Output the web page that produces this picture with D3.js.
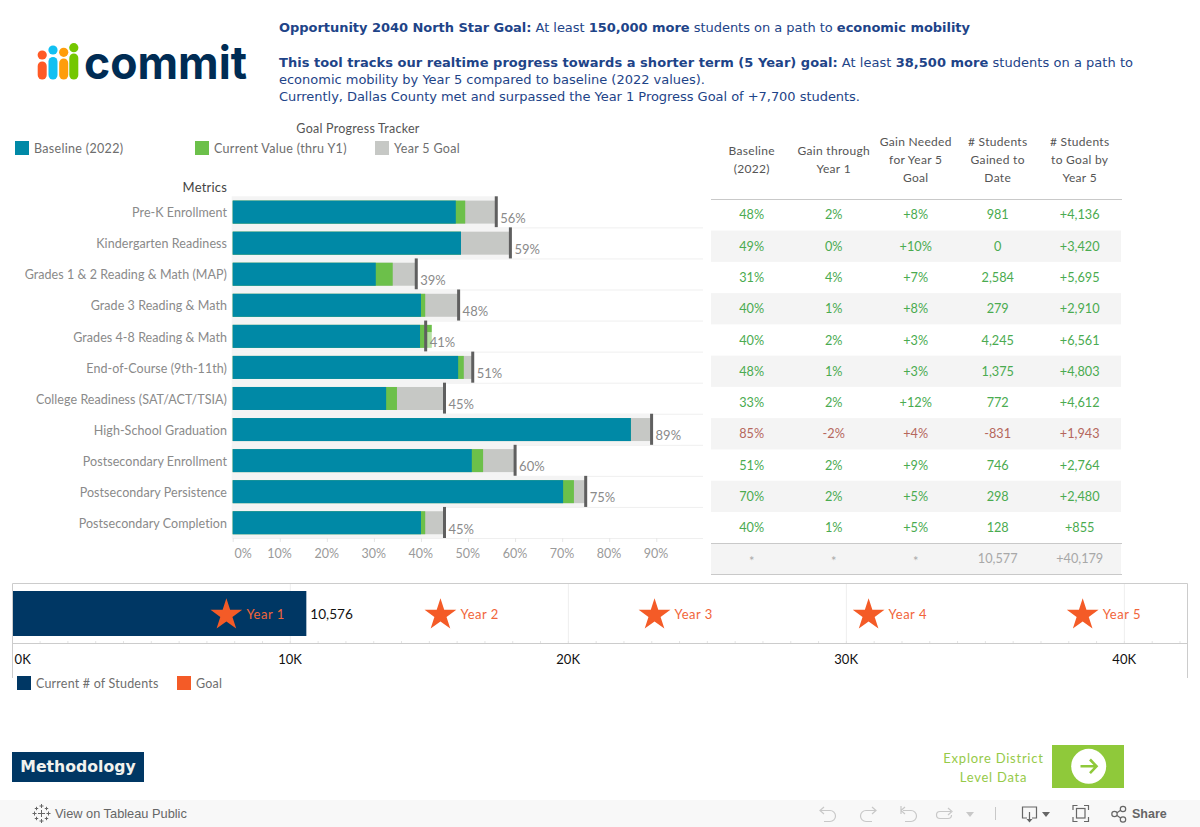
<!DOCTYPE html>
<html><head><meta charset="utf-8">
<script src="https://cdn.jsdelivr.net/npm/d3@7"></script>
<style>
html,body{margin:0;padding:0;background:#fff;overflow:hidden}
svg{display:block}
text{font-family:Lato,"Open Sans",sans-serif}
.dj{font-family:"DejaVu Sans",sans-serif}
</style></head><body><svg id="c" width="1200" height="827"></svg>
<script>
const metrics=["Pre-K Enrollment","Kindergarten Readiness","Grades 1 & 2 Reading & Math (MAP)","Grade 3 Reading & Math","Grades 4-8 Reading & Math","End-of-Course (9th-11th)","College Readiness (SAT/ACT/TSIA)","High-School Graduation","Postsecondary Enrollment","Postsecondary Persistence","Postsecondary Completion"];
const baselineBar=[47.4,48.5,30.4,40,39.8,47.9,32.6,84.6,50.8,70.2,40];
const currentBar=[49.4,48.5,34,40.9,42.3,49.1,34.9,84.6,53.2,72.5,40.9];
const goalBar=[56,59,39,48,41,51,45,89,60,75,45];
const goalLabels=["56%","59%","39%","48%","41%","51%","45%","89%","60%","75%","45%"];
const pctTicks=[0,10,20,30,40,50,60,70,80,90];
const colBaseline=["48%","49%","31%","40%","40%","48%","33%","85%","51%","70%","40%"];
const colGain=["2%","0%","4%","1%","2%","1%","2%","-2%","2%","2%","1%"];
const colNeeded=["+8%","+10%","+7%","+8%","+3%","+3%","+12%","+4%","+9%","+5%","+5%"];
const colGained=["981","0","2,584","279","4,245","1,375","772","-831","746","298","128"];
const colToGoal=["+4,136","+3,420","+5,695","+2,910","+6,561","+4,803","+4,612","+1,943","+2,764","+2,480","+855"];
const colTotals=["*","*","*","10,577","+40,179"];
const colHeads=[["Baseline","(2022)"],["Gain through","Year 1"],["Gain Needed","for Year 5","Goal"],["# Students","Gained to","Date"],["# Students","to Goal by","Year 5"]];
const currentStudents=10576;
const yearGoals=[7700,15400,23100,30800,38500];
const yearLabels=["Year 1","Year 2","Year 3","Year 4","Year 5"];
const kTicks=[0,10000,20000,30000,40000];

const C={teal:"#0089a6",green:"#6cc04a",grey:"#c6c8c5",band:"#f4f4f4",mark:"#5f5f5f",navy:"#003764",orange:"#f45b27",tg:"#4aab50",tr:"#b5675c",head:"#1e4488"};
const svg=d3.select("#c");

// ---- logo
const logo=svg.append("g");
[[42.2,55,61.5,"#ff5a26"],[53,50,57,"#12c0f2"],[63.7,52.3,58.5,"#ff9d0a"],[73.8,47.7,53.5,"#74c700"]].forEach(([x,dy,top,col])=>{
  logo.append("circle").attr("cx",x).attr("cy",dy).attr("r",4.6).attr("fill",col);
  logo.append("rect").attr("x",x-4.5).attr("y",top).attr("width",9).attr("height",79.5-top).attr("rx",4.5).attr("fill",col);
});
logo.append("text").attr("x",84).attr("y",79).attr("textLength",163).attr("lengthAdjust","spacingAndGlyphs")
  .style("font-family","Inter").style("font-size","46px").style("font-weight",700).attr("fill","#002c54").text("commit");

// ---- intro text
const intro=[
 [32,691,[["Opportunity 2040 North Star Goal:",1],[" At least ",0],["150,000 more",1],[" students on a path to ",0],["economic mobility",1]]],
 [67,854,[["This tool tracks our realtime progress towards a shorter term (5 Year) goal:",1],[" At least ",0],["38,500 more",1],[" students on a path to",0]]],
 [84,426,[["economic mobility by Year 5 compared to baseline (2022 values).",0]]],
 [101,581,[["Currently, Dallas County met and surpassed the Year 1 Progress Goal of +7,700 students.",0]]]
];
intro.forEach(([y,w,parts])=>{
  const t=svg.append("text").attr("class","dj").attr("x",279).attr("y",y).attr("fill",C.head).style("font-size","13px").attr("xml:space","preserve").attr("textLength",w).attr("lengthAdjust","spacing");
  parts.forEach(([s,b])=>t.append("tspan").style("font-weight",b?700:400).text(s));
});

// ---- legend
const soft={size:"12.5px",ls:".25px"};
svg.append("text").attr("x",358).attr("y",132.5).attr("text-anchor","middle").attr("fill","#555").style("font-size",soft.size).style("letter-spacing",soft.ls).text("Goal Progress Tracker");
[[15,C.teal,"Baseline (2022)"],[195,C.green,"Current Value (thru Y1)"],[375,C.grey,"Year 5 Goal"]].forEach(([x,c,s])=>{
  svg.append("rect").attr("x",x).attr("y",141).attr("width",14).attr("height",14).attr("fill",c);
  svg.append("text").attr("x",x+19).attr("y",153).attr("fill","#6e6e6e").style("font-size",soft.size).style("letter-spacing",".32px").text(s);
});
svg.append("text").attr("x",227).attr("y",192).attr("text-anchor","end").attr("fill","#444").style("font-size","13px").style("letter-spacing",".2px").text("Metrics");

// ---- bars
const x=d3.scaleLinear().domain([0,90]).range([232.7,656.3]);
const y=d3.scaleBand().domain(metrics).range([196.3,538]);
const rows=svg.append("g").selectAll("g").data(metrics).join("g").attr("transform",d=>`translate(0,${y(d)})`);
const bh=y.bandwidth(), pad=4.3, barH=23;
rows.append("rect").attr("x",x(0)-1).attr("width",(d,i)=>x(goalBar[i])-x(0)+1).attr("height",bh).attr("fill",C.band);
rows.append("line").attr("x1",x(0)).attr("x2",703).attr("y1",bh+.5).attr("y2",bh+.5).attr("stroke","#efefef");
rows.append("rect").attr("x",x(0)).attr("y",pad).attr("height",barH).attr("width",(d,i)=>x(goalBar[i])-x(0)).attr("fill",C.grey);
rows.append("rect").attr("x",x(0)).attr("y",pad).attr("height",barH).attr("width",(d,i)=>x(currentBar[i])-x(0)).attr("fill",C.green);
rows.append("rect").attr("x",x(0)).attr("y",pad).attr("height",barH).attr("width",(d,i)=>x(baselineBar[i])-x(0)).attr("fill",C.teal);
rows.append("rect").attr("x",(d,i)=>x(goalBar[i])+1.5).attr("y",11.5).attr("width",28).attr("height",bh-11.5).attr("fill","#fff").attr("fill-opacity",.5);
rows.append("rect").attr("x",(d,i)=>x(goalBar[i])-1.5).attr("y",0).attr("width",3).attr("height",bh).attr("fill",C.mark);
rows.append("text").attr("x",(d,i)=>x(goalBar[i])+4).attr("y",26.6).attr("fill","#8a8a8a").style("font-size","13px").text((d,i)=>goalLabels[i]);
rows.append("text").attr("x",227).attr("y",21).attr("text-anchor","end").attr("fill","#8a8a8a").style("font-size",soft.size).style("letter-spacing",".06px").text(d=>d);

const ax=svg.append("g").attr("transform","translate(0,538)").call(d3.axisBottom(x).tickValues(pctTicks).tickFormat(d=>d+"%").tickSize(4).tickPadding(7));
ax.select(".domain").remove();
ax.selectAll("line").attr("stroke","#e6e6e6");
ax.selectAll("text").attr("fill","#9a9a9a").style("font-size","12.5px").attr("font-family",null).attr("x",-.7);
ax.selectAll(".tick").filter(d=>d===0).select("text").attr("text-anchor","start").attr("x",1.3);

// ---- table
const tx=d3.scalePoint().domain(d3.range(5)).range([751.7,1079.7]);
const ty=d3.scaleBand().domain(d3.range(12)).range([199.3,574.5]);
const tbl=svg.append("g");
tbl.selectAll("rect").data(d3.range(12).filter(i=>i%2===1)).join("rect").attr("x",711).attr("width",410).attr("y",d=>ty(d)).attr("height",ty.bandwidth()).attr("fill",C.band);
[199.5,543.5,574.5].forEach(v=>tbl.append("line").attr("x1",711).attr("x2",1122).attr("y1",v).attr("y2",v).attr("stroke","#c9c9c9").attr("stroke-width",1));
colHeads.forEach((lines,c)=>{
  const y0=lines.length===3?146:155;
  lines.forEach((s,k)=>tbl.append("text").attr("x",tx(c)).attr("y",y0+k*18).attr("text-anchor","middle").attr("fill","#555").style("font-size","12px").style("letter-spacing",".3px").text(s));
});
[colBaseline,colGain,colNeeded,colGained,colToGoal].forEach((col,c)=>{
  tbl.append("g").selectAll("text").data(col).join("text").attr("x",tx(c)).attr("y",(d,i)=>ty(i)+ty.bandwidth()/2+4.5)
   .attr("text-anchor","middle").attr("fill",(d,i)=>i===7?C.tr:C.tg).style("font-size","12.7px").text(d=>d);
});
colTotals.forEach((s,c)=>tbl.append("text").attr("x",tx(c)).attr("y",ty(11)+ty.bandwidth()/2+(s==="*"?7:4.5)).attr("text-anchor","middle").attr("fill","#a8a8a8").style("font-size","12.7px").text(s));

// ---- progress strip
const k=d3.scaleLinear().domain([0,42270]).range([12.3,1187.5]);
const st=svg.append("g");
kTicks.slice(1).forEach(v=>st.append("line").attr("x1",k(v)).attr("x2",k(v)).attr("y1",584).attr("y2",643).attr("stroke","#eeeeee"));
st.append("rect").attr("x",k(0)).attr("y",591).attr("width",k(currentStudents)-k(0)).attr("height",45).attr("fill",C.navy);
[[12.5,583.5,1187.5,583.5],[12.5,643.5,1187.5,643.5],[12.5,583.5,12.5,678],[1187.5,583.5,1187.5,678]].forEach(([a,b,c,d])=>st.append("line").attr("x1",a).attr("y1",b).attr("x2",c).attr("y2",d).attr("stroke","#cccccc"));
const minor=d3.range(1000,42001,1000);
st.selectAll("line.m").data(minor).join("line").attr("class","m").attr("x1",d=>k(d)).attr("x2",d=>k(d)).attr("y1",641).attr("y2",643).attr("stroke","#e4e4e4");
const star=d3.symbol(d3.symbolStar,313);
st.selectAll("path.s").data(yearGoals).join("path").attr("class","s").attr("d",star).attr("transform",d=>`translate(${k(d)},615)`).attr("fill",C.orange);
st.selectAll("text.yl").data(yearGoals).join("text").attr("class","yl").attr("x",d=>k(d)+20).attr("y",619).attr("fill","#f1653a").style("font-size","13px").style("letter-spacing",".5px").text((d,i)=>yearLabels[i]);
st.append("text").attr("x",k(currentStudents)+4).attr("y",619).attr("fill","#111").style("font-size","13.6px").text(d3.format(",")(currentStudents));
const kax=svg.append("g").attr("transform","translate(0,643)").call(d3.axisBottom(k).tickValues(kTicks).tickFormat(d=>d/1000+"K").tickSize(0).tickPadding(12));
kax.select(".domain").remove();
kax.selectAll("text").attr("fill","#111").style("font-size","13px").attr("font-family",null).attr("x",-.7);
kax.selectAll(".tick").filter(d=>d===0).select("text").attr("text-anchor","start").attr("x",1.8);
[[17,C.navy,"Current # of Students"],[177,C.orange,"Goal"]].forEach(([xx,c,s])=>{
  svg.append("rect").attr("x",xx).attr("y",676).attr("width",14).attr("height",14).attr("fill",c);
  svg.append("text").attr("x",xx+19).attr("y",688).attr("fill","#6e6e6e").style("font-size",soft.size).style("letter-spacing",".2px").text(s);
});

// ---- buttons
svg.append("rect").attr("x",12).attr("y",752).attr("width",132).attr("height",30).attr("fill",C.navy);
svg.append("text").attr("class","dj").attr("x",78).attr("y",772).attr("text-anchor","middle").attr("fill","#f2f2ee").style("font-size","15.7px").style("font-weight",700).text("Methodology");
["Explore District","Level Data"].forEach((s,i)=>svg.append("text").attr("x",993.5).attr("y",763+i*19).attr("text-anchor","middle").attr("fill","#96ca48").style("font-size","13px").style("letter-spacing",".75px").text(s));
svg.append("rect").attr("x",1052).attr("y",745).attr("width",72).attr("height",43).attr("fill","#8fc93a");
svg.append("circle").attr("cx",1088.7).attr("cy",766.3).attr("r",17.5).attr("fill","#fff");
svg.append("path").attr("d","M1080.5 766.3H1096M1090 759.5l6.5 6.8-6.5 6.8").attr("fill","none").attr("stroke","#8fc93a").attr("stroke-width",2.6);

// ---- toolbar
svg.append("rect").attr("x",0).attr("y",800).attr("width",1200).attr("height",27).attr("fill","#f8f8f8");
const lg=svg.append("g").attr("stroke","#666").attr("stroke-width",1);
[[41.5,813.5,3.5],[41.5,806,2],[41.5,821,2],[34.5,813.5,2],[48.5,813.5,2],[36.5,808.5,1.7],[46.5,808.5,1.7],[36.5,818.5,1.7],[46.5,818.5,1.7]].forEach(([a,b,r])=>{
  lg.append("line").attr("x1",a-r).attr("x2",a+r).attr("y1",b).attr("y2",b);
  lg.append("line").attr("x1",a).attr("x2",a).attr("y1",b-r).attr("y2",b+r);
});
svg.append("text").attr("x",55).attr("y",817.5).attr("fill","#666").style("font-family","Liberation Sans").style("font-size","12.8px").text("View on Tableau Public");
const dim=svg.append("g").attr("fill","none").attr("stroke","#c8c8c8").attr("stroke-width",1.2);
dim.append("path").attr("d","M824 807l-4 3.5 4 3.5M820 810.5h10a5.5 5.5 0 0 1 0 11h-6");
dim.append("path").attr("d","M872 807l4 3.5-4 3.5M876 810.5h-10a5.5 5.5 0 0 0 0 11h6");
dim.append("path").attr("d","M901 806v8M905 807l-4 3.5 4 3.5M903 810.5h8a5.5 5.5 0 0 1 0 11h-6");
dim.append("path").attr("d","M948 808l4 3.5-4 3.5M951 811.5h-11a3.5 3.5 0 0 0 0 7h8a3.5 3.5 0 0 0 3.5-3.5");
svg.append("path").attr("d","M966 812h8l-4 5z").attr("fill","#c8c8c8");
svg.append("line").attr("x1",995.5).attr("x2",995.5).attr("y1",807).attr("y2",820).attr("stroke","#c8c8c8");
const dk=svg.append("g").attr("fill","none").attr("stroke","#666").attr("stroke-width",1.2);
dk.append("path").attr("d","M1027 818h-4.5v-11h14v11h-4.5M1029.5 812v8");
svg.append("path").attr("d","M1026.5 819h6l-3 3.5zM1042 812h8l-4 5z").attr("fill","#666");
dk.append("path").attr("d","M1073 810v-4.5h4.5M1084 805.5h4.5v4.5M1088.5 817v4.5h-4.5M1077.5 821.5h-4.5v-4.5");
dk.append("rect").attr("x",1076.5).attr("y",808.5).attr("width",8.5).attr("height",9.5);
dk.append("circle").attr("cx",1114.5).attr("cy",814).attr("r",2.7);
dk.append("circle").attr("cx",1123).attr("cy",809).attr("r",2.7);
dk.append("circle").attr("cx",1123).attr("cy",819.5).attr("r",2.7);
dk.append("path").attr("d","M1117 812.7l3.6-2.4M1117 815.5l3.6 2.6");
svg.append("text").attr("x",1132).attr("y",818).attr("fill","#666").style("font-family","Liberation Sans").style("font-weight",700).style("font-size","12.5px").text("Share");
</script></body></html>
